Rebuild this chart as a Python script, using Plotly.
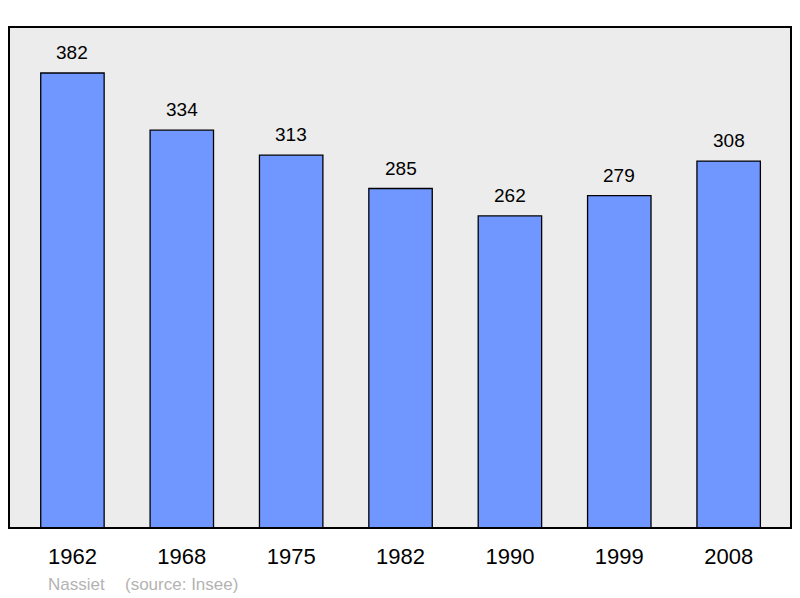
import plotly.graph_objects as go

years = ["1962", "1968", "1975", "1982", "1990", "1999", "2008"]
population = [382, 334, 313, 285, 262, 279, 308]

W, H = 800, 598
L, R, T, B = 9, 9, 27, 70
FONT = "Liberation Sans, Arial, sans-serif"

fig = go.Figure()
fig.add_trace(go.Bar(
    x=years, y=population, width=0.58,
    marker=dict(color="#7096ff", line=dict(color="#000000", width=1.3)),
    hoverinfo="skip",
))

for i, v in enumerate(population):
    fig.add_annotation(x=i, y=v, text=str(v), showarrow=False,
                       yanchor="bottom", yshift=8,
                       font=dict(family=FONT, size=19, color="#000000"))

fy = -(584 - (H - B)) / (H - T - B)
fig.add_annotation(xref="paper", yref="paper", x=(46 - L) / (W - L - R), y=fy,
                   text="Nassiet", showarrow=False, xanchor="left", yanchor="middle",
                   font=dict(family=FONT, size=17, color="#b3b3b3"))
fig.add_annotation(xref="paper", yref="paper", x=(123 - L) / (W - L - R), y=fy,
                   text="(source: Insee)", showarrow=False, xanchor="left", yanchor="middle",
                   font=dict(family=FONT, size=17, color="#b3b3b3"))

fig.add_shape(type="rect", xref="paper", yref="paper", x0=0, y0=0, x1=1, y1=1,
              line=dict(color="#000000", width=2), layer="above")

fig.update_layout(
    width=W, height=H,
    margin=dict(l=L, r=R, t=T, b=B, pad=0),
    paper_bgcolor="#ffffff", plot_bgcolor="#ececec",
    showlegend=False, bargap=0.42,
    font=dict(family=FONT, color="#000000"),
    xaxis=dict(type="category", range=[-0.58, 6.57], showgrid=False, zeroline=False, showline=False,
               ticks="outside", ticklen=9, tickcolor="rgba(0,0,0,0)",
               tickfont=dict(size=22, color="#000000")),
    yaxis=dict(range=[0, 420.6], showgrid=False, zeroline=False, showline=False,
               showticklabels=False, ticks=""),
)

fig.write_html("out.html", config={"displayModeBar": False},
               post_script="document.body.style.margin='0';")
